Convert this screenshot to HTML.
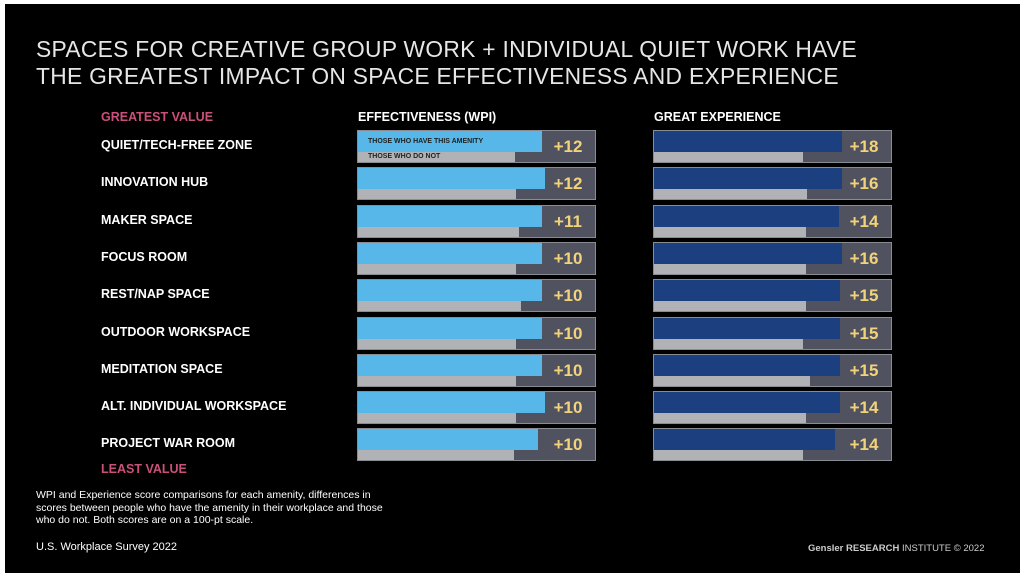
<!DOCTYPE html>
<html><head><style>
body{margin:0;width:1024px;height:584px;background:#fff;position:relative;overflow:hidden;font-family:"Liberation Sans",sans-serif}
#bg{position:absolute;left:5px;top:4px;width:1015px;height:569px;background:#000}
.t{position:absolute;color:#fff;white-space:nowrap}
.box{position:absolute;height:33px;background:#50525f;border:1px solid #8a8c94;box-sizing:border-box}
.b1{position:absolute;left:0;top:0;height:21px}
.b2{position:absolute;left:0;top:21px;height:10px;background:#b1b2b6}
.v{position:absolute;right:0;top:6px;width:54px;text-align:center;color:#f2d37a;font-size:17px;font-weight:bold}
.lab{font-size:12.5px;font-weight:bold}
</style></head><body>
<div id="bg"></div>
<div class="t" style="left:36px;top:36px;font-size:22.8px;color:#e6e6e6;line-height:27px;letter-spacing:0.3px">SPACES FOR CREATIVE GROUP WORK + INDIVIDUAL QUIET WORK HAVE<br>THE GREATEST IMPACT ON SPACE EFFECTIVENESS AND EXPERIENCE</div>
<div class="t lab" style="left:101px;top:110px;color:#c9507a">GREATEST VALUE</div>
<div class="t lab" style="left:101px;top:462px;color:#c9507a">LEAST VALUE</div>
<div class="t lab" style="left:358px;top:110px">EFFECTIVENESS (WPI)</div>
<div class="t lab" style="left:654px;top:110px">GREAT EXPERIENCE</div>
<div id="rows"></div>
<div class="t" style="left:36px;top:489px;font-size:10.5px;line-height:12.5px">WPI and Experience score comparisons for each amenity, differences in<br>scores between people who have the amenity in their workplace and those<br>who do not. Both scores are on a 100-pt scale.</div>
<div class="t" style="left:36px;top:541px;font-size:11px">U.S. Workplace Survey 2022</div>
<div class="t" style="left:808px;top:543px;font-size:9.5px;color:#ccc"><b>Gensler RESEARCH</b> INSTITUTE © 2022</div>
<script>
const d=[["QUIET/TECH-FREE ZONE",542,515,12,842,803,18],["INNOVATION HUB",545,516,12,842,807,16],["MAKER SPACE",542,519,11,839,806,14],["FOCUS ROOM",542,516,10,842,806,16],["REST/NAP SPACE",542,521,10,840,806,15],["OUTDOOR WORKSPACE",542,516,10,840,803,15],["MEDITATION SPACE",542,516,10,840,810,15],["ALT. INDIVIDUAL WORKSPACE",545,516,10,840,806,14],["PROJECT WAR ROOM",538,514,10,835,803,14]];
let h="";
d.forEach((r,i)=>{const y=130+i*37.3;
h+=`<div class="t lab" style="left:101px;top:${y+8}px">${r[0]}</div>`;
h+=`<div class="box" style="left:357px;top:${y}px;width:239px"><div class="b1" style="width:${r[1]-358}px;background:#56b7e8">${i==0?'<span style="font-size:7px;font-weight:bold;color:#222;position:absolute;left:10px;top:7px">THOSE WHO HAVE THIS AMENITY</span>':''}</div><div class="b2" style="width:${r[2]-358}px">${i==0?'<span style="font-size:7px;font-weight:bold;color:#222;position:absolute;left:10px;top:1px">THOSE WHO DO NOT</span>':''}</div><div class="v">+${r[3]}</div></div>`;
h+=`<div class="box" style="left:653px;top:${y}px;width:239px"><div class="b1" style="width:${r[4]-654}px;background:#1c3f7f"></div><div class="b2" style="width:${r[5]-654}px"></div><div class="v">+${r[6]}</div></div>`;});
document.getElementById("rows").innerHTML=h;
</script>
</body></html>
